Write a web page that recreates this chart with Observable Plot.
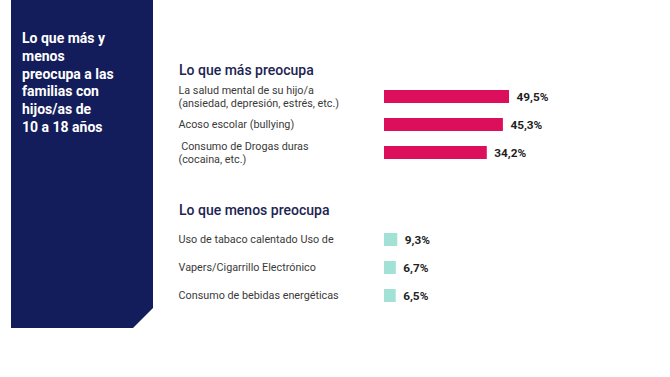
<!DOCTYPE html>
<html><head><meta charset="utf-8">
<script src="https://cdn.jsdelivr.net/npm/d3@7"></script>
<script src="https://cdn.jsdelivr.net/npm/@observablehq/plot@0.6"></script>
<style>
body{margin:0;background:#fff;}
#root{position:relative;width:670px;height:377px;overflow:hidden;font-family:Roboto,sans-serif;}
#panel{position:absolute;left:11px;top:0;width:142px;height:328px;background:#131d5b;clip-path:polygon(0 0,100% 0,100% 308px,122px 100%,0 100%);}
#title{position:absolute;left:22px;top:30px;color:#fff;font-weight:700;font-size:14px;line-height:17.8px;white-space:pre;}
.hdr{position:absolute;left:179px;color:#1c2452;font-weight:500;font-size:14px;line-height:16.4px;white-space:nowrap;}
.plot{position:absolute;left:165px;}
</style></head>
<body>
<div id="root">
  <div id="panel"></div>
  <div id="title"></div>
  <div class="hdr" id="hdrTop" style="top:62px"></div>
  <div class="hdr" id="hdrBottom" style="top:202px"></div>
  <div class="plot" id="plotTop" style="top:50px"></div>
  <div class="plot" id="plotBottom" style="top:210px"></div>
</div>
<script>
const titleLines = ["Lo que más y", "menos", "preocupa a las", "familias con", "hijos/as de", "10 a 18 años"];
const topHeader = "Lo que más preocupa";
const bottomHeader = "Lo que menos preocupa";
const topCategories = ["La salud mental de su hijo/a\n(ansiedad, depresión, estrés, etc.)", "Acoso escolar (bullying)", " Consumo de Drogas duras\n(cocaina, etc.)"];
const topValues = [49.5, 45.3, 34.2];
const bottomCategories = ["Uso de tabaco calentado Uso de", "Vapers/Cigarrillo Electrónico", "Consumo de bebidas energéticas"];
const bottomValues = [9.3, 6.7, 6.5];

document.getElementById("title").textContent = titleLines.join("\n");
document.getElementById("hdrTop").textContent = topHeader;
document.getElementById("hdrBottom").textContent = bottomHeader;

const fmt = v => v.toFixed(1).replace(".", ",") + "%";

function section(cats, vals, opts) {
  const data = cats.map((c, i) => ({cat: c, value: vals[i]}));
  const base = opts.domain[0];
  return Plot.plot({
    width: 395, height: opts.height,
    marginLeft: 219, marginRight: opts.marginRight, marginTop: opts.marginTop, marginBottom: opts.marginBottom,
    style: {fontFamily: "Roboto, sans-serif", background: "transparent", overflow: "visible"},
    x: {domain: opts.domain, axis: null},
    y: {type: "band", domain: cats, paddingInner: opts.pi, paddingOuter: opts.pi / 2, axis: null},
    marks: [
      Plot.barX(data, {x1: () => base, x2: "value", y: "cat", fill: opts.color}),
      Plot.text(data, {y: "cat", text: "cat", frameAnchor: "left", textAnchor: "start", dx: -206, dy: -1,
        fontSize: 10.8, fill: "#3a3a3a", lineHeight: 1.25}),
      Plot.text(data, {x: "value", y: "cat", text: d => fmt(d.value), textAnchor: "start", dx: 7,
        fontSize: 11.8, fontWeight: 700, fill: "#1f1f1f"})
    ]
  });
}

document.getElementById("plotTop").append(section(topCategories, topValues, {
  height: 125, marginTop: 32, marginBottom: 7, marginRight: 51, pi: 0.52,
  domain: [-36.6, 49.5], color: "#dc0f5c"
}));
document.getElementById("plotBottom").append(section(bottomCategories, bottomValues, {
  height: 105, marginTop: 15, marginBottom: 6, marginRight: 162.7, pi: 0.536,
  domain: [-14, 9.3], color: "#a2e1d5"
}));
</script>
</body></html>
